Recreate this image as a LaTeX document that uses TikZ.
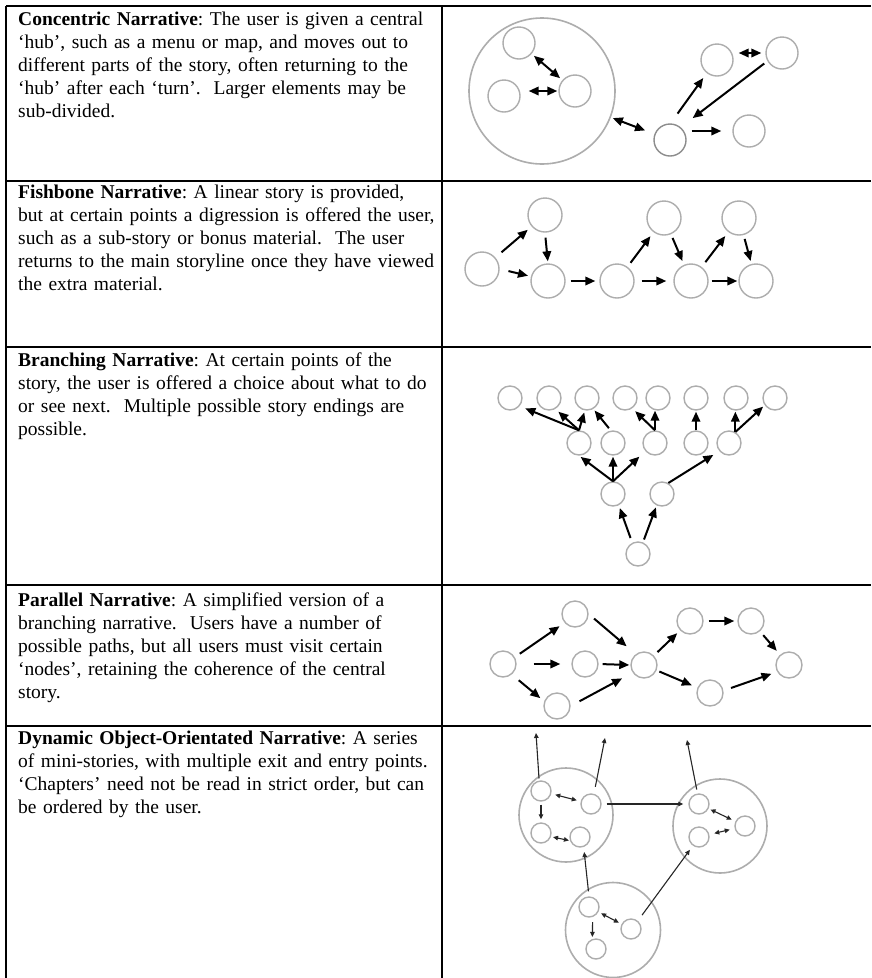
\documentclass[tikz,border=0pt]{standalone}
\usepackage{fontspec}
\setmainfont{Liberation Serif}
\usetikzlibrary{arrows.meta}
\frenchspacing
\begin{document}
\begin{tikzpicture}[x=1pt,y=-1pt,
  rule/.style={line width=1.3pt,black},
  desc/.style={anchor=base west,inner sep=0pt,text width=440pt,align=left,
    font=\fontsize{19.5}{23}\selectfont},
  ring/.style={circle,draw=black!32,line width=1.4pt,inner sep=0pt,minimum size=#1},
  hubring/.style={circle,draw=black!32,line width=1.6pt,inner sep=0pt,minimum size=#1},
  arr/.style={line width=2pt,-{Triangle[length=10pt,width=8.5pt]}},
  darr/.style={line width=2pt,{Triangle[length=10pt,width=8.5pt]}-{Triangle[length=10pt,width=8.5pt]}},
  tarr/.style={line width=1.1pt,draw=black!85,-{Triangle[length=5pt,width=4.5pt]}},
  tdarr/.style={line width=1.1pt,draw=black!85,{Triangle[length=5pt,width=4.5pt]}-{Triangle[length=5pt,width=4.5pt]}}
]
\useasboundingbox (0,0) rectangle (871,978);
\fill[white] (0,0) rectangle (871,978);
% table rules
\draw[rule] (6,6) -- (871,6);
\draw[rule] (6,181) -- (871,181);
\draw[rule] (6,347) -- (871,347);
\draw[rule] (6,585) -- (871,585);
\draw[rule] (6,726) -- (871,726);
\draw[rule] (6,6) -- (6,978);
\draw[rule] (442,6) -- (442,978);

% texts
\node[desc] (t1) at (18,25) {\textbf{Concentric Narrative}: The user is given a central\\
‘hub’, such as a menu or map, and moves out to\\
different parts of the story, often returning to the\\
‘hub’ after each ‘turn’.\ \ Larger elements may be\\
sub-divided.};
\node[desc] (t2) at (18,198) {\textbf{Fishbone Narrative}: A linear story is provided,\\
but at certain points a digression is offered the user,\\
such as a sub-story or bonus material.\ \ The user\\
returns to the main storyline once they have viewed\\
the extra material.};
\node[desc] (t3) at (18,366) {\textbf{Branching Narrative}: At certain points of the\\
story, the user is offered a choice about what to do\\
or see next.\ \ Multiple possible story endings are\\
possible.};
\node[desc] (t4) at (18,606) {\textbf{Parallel Narrative}: A simplified version of a\\
branching narrative.\ \ Users have a number of\\
possible paths, but all users must visit certain\\
‘nodes’, retaining the coherence of the central\\
story.};
\node[desc] (t5) at (18,744) {\textbf{Dynamic Object-Orientated Narrative}: A series\\
of mini-stories, with multiple exit and entry points.\\
‘Chapters’ need not be read in strict order, but can\\
be ordered by the user.};

% ---------- Row 1: concentric ----------
\node[hubring=146pt] (hub) at (542,91) {};
\node[ring=32pt] (ca) at (519,43) {};
\node[ring=32pt] (cb) at (504,96) {};
\node[ring=32pt] (cc) at (575,91) {};
\node[ring=32pt,draw=black!45] (cd) at (670,140) {};
\node[ring=32pt] (ce) at (749,131) {};
\node[ring=32pt] (cf) at (717,60) {};
\node[ring=32pt] (cg) at (782,53) {};
\draw[darr,shorten <=3pt,shorten >=3pt] (ca) -- (cc);
\draw[darr,shorten <=8pt,shorten >=1pt] (cb.east |- cc.west) -- (cc.west);
\draw[darr,shorten <=2pt,shorten >=10pt] (hub) -- (cd);
\draw[arr,shorten <=5pt,shorten >=11pt] (cd.east |- ce.west) -- (ce.west);
\draw[darr,shorten <=5pt,shorten >=4pt] (cf.east |- cg.west) -- (cg.west);
\draw[arr,shorten <=12pt,shorten >=6pt] (cd.88) -- (cf.232);
\draw[arr,shorten <=4pt,shorten >=15pt] (cg.209) -- (cd.50);

% ---------- Row 2: fishbone ----------
\node[ring=34pt] (f1) at (482,269) {};
\node[ring=34pt] (f2) at (545,215) {};
\node[ring=34pt] (f3) at (548,281) {};
\node[ring=34pt] (f4) at (617,281) {};
\node[ring=34pt] (f5) at (664,218) {};
\node[ring=34pt] (f6) at (691,281) {};
\node[ring=34pt] (f7) at (739,218) {};
\node[ring=34pt] (f8) at (756,281) {};
\draw[arr,shorten <=8pt,shorten >=5pt] (f1) -- (f2);
\draw[arr,shorten <=5pt,shorten >=2pt] (f2.south) -- (f3.north);
\draw[arr,shorten <=9pt,shorten >=3pt] (f1.east) -- (f3.165);
\draw[arr,shorten <=5pt,shorten >=4pt] (f3.east) -- (f4.west);
\draw[arr,shorten <=5pt,shorten >=5pt] (f4) -- (f5);
\draw[arr,shorten <=4pt,shorten >=4pt] (f5) -- (f6);
\draw[arr,shorten <=7pt,shorten >=7pt] (f4.east) -- (f6.west);
\draw[arr,shorten <=6pt,shorten >=5pt] (f6) -- (f7);
\draw[arr,shorten <=4pt,shorten >=3pt] (f7) -- (f8);
\draw[arr,shorten <=3pt,shorten >=1pt] (f6.east) -- (f8.west);

% ---------- Row 3: branching ----------
\foreach \n/\x in {1/510,2/549,3/587,4/625,5/658,6/696,7/736,8/775}
  \node[ring=24pt] (bt\n) at (\x,398) {};
\foreach \n/\x in {1/579,2/613,3/655,4/696,5/729}
  \node[ring=24pt] (bm\n) at (\x,443) {};
\node[ring=24pt] (bl1) at (613,494) {};
\node[ring=24pt] (bl2) at (662,494) {};
\node[ring=24pt] (bb) at (638,554) {};
\draw[arr,shorten >=6pt] (bm1.north) -- (bt1.-40);
\draw[arr,shorten >=4pt] (bm1.north) -- (bt2.-60);
\draw[arr,shorten >=2pt] (bm1.north) -- (bt3.-100);
\draw[arr,shorten <=3pt,shorten >=2pt] (bm2.100) -- (bt3.-60);
\draw[arr,shorten >=4pt] (bm3.north) -- (bt4.-55);
\draw[arr] (bm3.north) -- (bm3.north |- bt5.south);
\draw[arr,shorten >=1pt] (bm4.north) -- (bt6.south);
\draw[arr,shorten >=1pt] (bm5.60) -- (bm5.60 |- bt7.south);
\draw[arr,shorten >=2pt] (bm5.60) -- (bt8.215);
\draw[arr,shorten >=2pt] (bl1.north) -- (bm1.south);
\draw[arr,shorten >=1pt] (bl1.north) -- (bm2.south);
\draw[arr,shorten >=8pt] (bl1.north) -- (bm3.220);
\draw[arr,shorten >=7pt] (bl2.60) -- (bm5.220);
\draw[arr,shorten <=5pt,shorten >=3pt] (bb.117) -- (bl1.-63);
\draw[arr,shorten <=3pt,shorten >=2pt] (bb.67) -- (bl2.-115);

% ---------- Row 4: parallel ----------
\node[ring=26pt] (p1) at (503,664) {};
\node[ring=26pt] (p2) at (575,614) {};
\node[ring=26pt] (p3) at (585,664) {};
\node[ring=26pt] (p4) at (557,706) {};
\node[ring=26pt] (p5) at (644,665) {};
\node[ring=26pt] (p6) at (690,621) {};
\node[ring=26pt] (p7) at (751,621) {};
\node[ring=26pt] (p8) at (710,693) {};
\node[ring=26pt] (p9) at (789,665) {};
\draw[arr,shorten <=6pt,shorten >=6pt] (p1.30) -- (p2.220);
\draw[arr,shorten <=17pt,shorten >=11pt] (p1.east) -- (p3.west);
\draw[arr,shorten <=9pt,shorten >=5pt] (p1.-50) -- (p4.160);
\draw[arr,shorten <=7pt,shorten >=12pt] (p2.east) -- (p5.127);
\draw[arr,shorten <=4pt,shorten >=1pt] (p3.east) -- (p5.west);
\draw[arr,shorten <=10pt,shorten >=12pt] (p4.east) -- (p5.214);
\draw[arr,shorten <=5pt,shorten >=4pt] (p5) -- (p6);
\draw[arr,shorten <=3pt,shorten >=6pt] (p5) -- (p8);
\draw[arr,shorten <=5pt,shorten >=3pt] (p6.east) -- (p7.west);
\draw[arr,shorten <=5pt,shorten >=5pt] (p7) -- (p9);
\draw[arr,shorten <=8pt,shorten >=6pt] (p8.10) -- (p9.210);

% ---------- Row 5: dynamic object-orientated ----------
\node[hubring=94pt] (g1) at (566,815) {};
\node[hubring=94pt] (g2) at (720,826) {};
\node[hubring=95pt] (g3) at (613,930) {};
\node[ring=20pt] (da) at (541,791) {};
\node[ring=20pt] (db) at (591,804) {};
\node[ring=20pt] (dc) at (541,833) {};
\node[ring=20pt] (dd) at (580,837) {};
\node[ring=20pt] (de) at (699,804) {};
\node[ring=20pt] (df) at (745,826) {};
\node[ring=20pt] (dg) at (699,837) {};
\node[ring=20pt] (dh) at (589,907) {};
\node[ring=20pt] (di) at (631,929) {};
\node[ring=20pt] (dj) at (596,949) {};
\coordinate (xa) at (536,733);
\coordinate (xb) at (605,738);
\coordinate (xe) at (687,740);
\draw[tarr,shorten <=2pt] (da.100) -- (xa);
\draw[tarr,shorten <=7pt] (db.74) -- (xb);
\draw[tarr,shorten <=4pt] (de.98) -- (xe);
\draw[tdarr,shorten <=4pt,shorten >=4pt] (da) -- (db);
\draw[tarr,shorten <=3pt,shorten >=3pt] (da.south) -- (dc.north);
\draw[tdarr,shorten <=2pt,shorten >=1pt] (dc.-20) -- (dd.200);
\draw[tarr,shorten <=5pt,shorten >=5pt] (db.east) -- (de.west);
\draw[tdarr,shorten <=2pt,shorten >=4pt] (de) -- (df);
\draw[tdarr,shorten <=5pt,shorten >=5pt] (dg) -- (df);
\draw[tarr,shorten <=5pt,shorten >=5pt] (dh.north) -- (dd.-70);
\draw[tarr,shorten <=7pt,shorten >=5pt] (di.50) -- (dg.235);
\draw[tdarr,shorten <=3pt,shorten >=3pt] (dh) -- (di);
\draw[tarr,shorten <=5pt,shorten >=2pt] (dh.-70) -- (dj.110);
\end{tikzpicture}
\end{document}
